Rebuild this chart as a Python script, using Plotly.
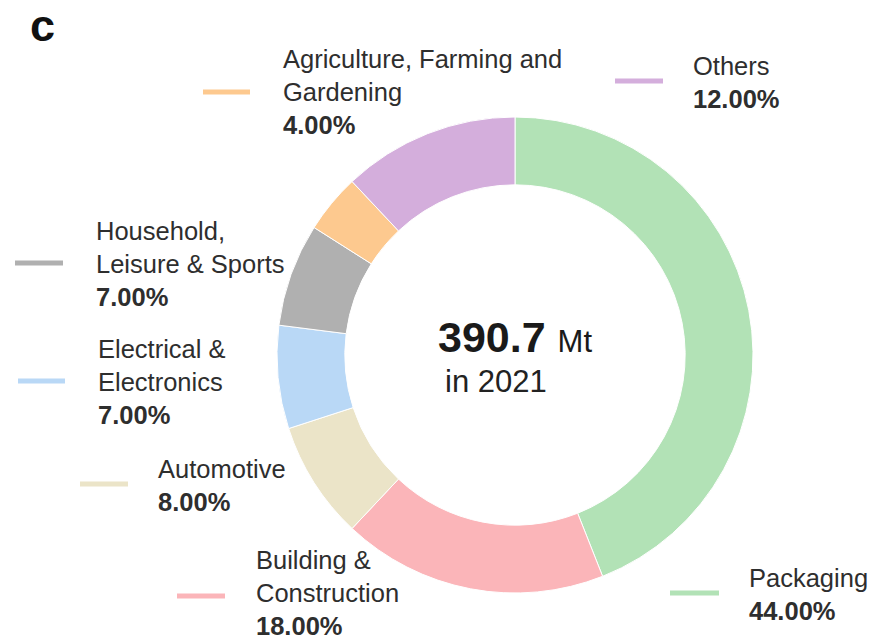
import plotly.graph_objects as go

W, H = 889, 641

categories = ["Packaging", "Building & Construction", "Automotive", "Electrical & Electronics",
              "Household, Leisure & Sports", "Agriculture, Farming and Gardening", "Others"]
shares = [44.0, 18.0, 8.0, 7.0, 7.0, 4.0, 12.0]
colors = ["#b2e2b6", "#fbb5b9", "#ebe4c8", "#b9d8f6", "#b0b0b0", "#fdc98f", "#d4aedc"]
label_lines = [["Packaging"], ["Building &", "Construction"], ["Automotive"],
               ["Electrical &", "Electronics"], ["Household,", "Leisure & Sports"],
               ["Agriculture, Farming and", "Gardening"], ["Others"]]
total_mt = 390.7
year = 2021

# label placement (pixels): line x0, x1, y ; text x, block-center y
label_pos = [
    (670, 719, 593, 747, 594),
    (177, 225, 596, 254, 593),
    (80, 128, 484, 156, 485),
    (18, 65, 381, 96, 382),
    (15, 63, 263, 94, 264),
    (203, 250, 92, 281, 92),
    (615, 663, 81, 691, 82),
]

def px(x):
    return x / W

def py(y):
    return 1 - y / H

cx, cy, r = 515, 355, 238

fig = go.Figure(go.Pie(
    labels=categories, values=shares, hole=0.715, sort=False, direction="clockwise",
    rotation=0, marker=dict(colors=colors, line=dict(color="white", width=1)),
    textinfo="none", hoverinfo="label+percent", showlegend=False,
    domain=dict(x=[px(cx - r), px(cx + r)], y=[py(cy + r), py(cy - r)]),
))

font = "Liberation Sans, Arial, sans-serif"
annotations = []
shapes = []
for lines, val, col, (x0, x1, ly, tx, ty) in zip(label_lines, shares, colors, label_pos):
    shapes.append(dict(type="line", xref="paper", yref="paper", x0=px(x0), x1=px(x1),
                       y0=py(ly), y1=py(ly), line=dict(color=col, width=5)))
    text = "<br>".join(lines) + "<br><b>%.2f%%</b>" % val
    annotations.append(dict(xref="paper", yref="paper", x=px(tx), y=py(ty), text=text,
                            showarrow=False, xanchor="left", yanchor="middle", align="left",
                            font=dict(family=font, size=25.5, color="#2e2e2e")))

annotations.append(dict(xref="paper", yref="paper", x=px(cx), y=py(337),
                        text="<b>%.1f</b> <span style='font-size:31px'>Mt</span>" % total_mt,
                        showarrow=False, xanchor="center", yanchor="middle",
                        font=dict(family=font, size=43, color="#1a1a1a")))
annotations.append(dict(xref="paper", yref="paper", x=px(496), y=py(381),
                        text="in %d" % year, showarrow=False, xanchor="center", yanchor="middle",
                        font=dict(family=font, size=31, color="#222222")))
annotations.append(dict(xref="paper", yref="paper", x=px(42), y=py(25), text="<b>c</b>",
                        showarrow=False, xanchor="center", yanchor="middle",
                        font=dict(family=font, size=45, color="#111111")))

fig.update_layout(width=W, height=H, margin=dict(l=0, r=0, t=0, b=0),
                  paper_bgcolor="white", plot_bgcolor="white",
                  annotations=annotations, shapes=shapes)
fig.write_html("out.html")
